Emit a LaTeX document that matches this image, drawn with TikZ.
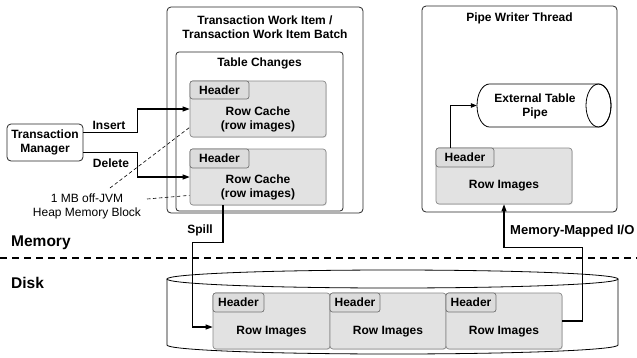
\documentclass[tikz,border=0pt]{standalone}
\usepackage{fontspec}
\setmainfont{Liberation Sans}
\usetikzlibrary{arrows.meta,calc,shadows}
\definecolor{boxgray}{HTML}{E2E2E2}
\definecolor{hdrgray}{HTML}{DCDCDC}
\definecolor{edgegray}{HTML}{8A8A8A}
\begin{document}
\begin{tikzpicture}[x=1pt,y=-1pt,
  every node/.style={font=\bfseries\fontsize{12}{14}\selectfont, inner sep=0pt, align=center},
  frame/.style={draw=black!85, line width=0.8pt, rounded corners=4pt, fill=white},
  graybox/.style={draw=edgegray, line width=0.7pt, rounded corners=3pt, fill=boxgray,
    drop shadow={shadow xshift=0.8pt, shadow yshift=-0.8pt, opacity=0.25}},
  hdrbox/.style={draw=edgegray!120, line width=0.7pt, rounded corners=2.5pt, fill=hdrgray},
  arr/.style={line width=1.1pt, -{Triangle[length=7pt,width=5pt]}},
  conn/.style={line width=1.1pt},
  thin dash/.style={dashed, dash pattern=on 3.5pt off 2.5pt, line width=0.6pt},
  big label/.style={font=\bfseries\fontsize{15.5}{18}\selectfont, anchor=west},
]
\useasboundingbox (0,0) rectangle (637,357);

% ---------- Transaction work item ----------
\node[frame, minimum width=196pt, minimum height=206pt] (twi) at (265,110) {};
\node (twititle) at (265,27.5) {Transaction Work Item /\\Transaction Work Item Batch};
\node[frame, rounded corners=3pt, minimum width=167pt, minimum height=159pt] (tc) at (259.5,131.5) {};
\node (tctitle) at (259.5,63.5) {Table Changes};

\node[graybox, minimum width=136pt, minimum height=56pt] (rc1) at (258,109) {};
\node[hdrbox, minimum width=59pt, minimum height=18pt] (h1) at (219.5,90) {Header};
\node (rc1t) at (258,119) {Row Cache\\(row images)};

\node[graybox, minimum width=136pt, minimum height=56pt] (rc2) at (258,177) {};
\node[hdrbox, minimum width=59pt, minimum height=19pt] (h2) at (219.5,158.5) {Header};
\node (rc2t) at (258,187) {Row Cache\\(row images)};

% ---------- Transaction manager ----------
\node[frame, minimum width=76pt, minimum height=37pt] (tm) at (45,142.5) {Transaction\\Manager};
\node (ins) at (109,125) {Insert};
\node (del) at (111,163) {Delete};
\node[font=\mdseries\fontsize{12}{14}\selectfont] (mem) at (87,206) {1 MB off-JVM\\Heap Memory Block};
\coordinate (d1) at (110,188);
\coordinate (d2) at (147,199);

\draw[arr] ($(tm.north east)!0.24!(tm.south east)$) -- ++(54,0) |- (rc1.west);
\draw[arr] ($(tm.north east)!0.76!(tm.south east)$) -- ++(54,0) |- (rc2.west);
\draw[thin dash] (d1) -- ($(rc1.south west)+(0,-10)$);
\draw[thin dash] (d2) -- ($(rc2.south west)+(0,-10)$);

% ---------- Pipe writer thread ----------
\node[frame, minimum width=195pt, minimum height=206pt] (pw) at (519.5,109) {};
\node (pwtitle) at (519.5,18) {Pipe Writer Thread};
\node[minimum width=134pt, minimum height=43pt] (pipe) at (544,105.5) {};
\draw[line width=0.8pt, fill=white]
  (489.5,84) -- (598.5,84) arc (90:-90:12.5pt and 21.5pt) -- (489.5,127)
  arc (270:90:12.5pt and 21.5pt) -- cycle;
\draw[line width=0.8pt] (598.5,105.5) ellipse (12.5pt and 21.5pt);
\node (pipet) at (535,106) {External Table\\Pipe};

\node[graybox, minimum width=136pt, minimum height=56pt] (ri) at (504,176) {};
\node[hdrbox, minimum width=58pt, minimum height=19pt] (h3) at (465,157.5) {Header};
\node (rit) at (504,186) {Row Images};
\draw[line width=0.8pt, -{Triangle[length=6pt,width=4.5pt]}] ($(ri.north west)+(15,0)$) |- (pipe.west);

% ---------- Memory / Disk ----------
\node[big label] (memlbl) at (11,243) {Memory};
\node[big label] (disklbl) at (11,283) {Disk};
\coordinate (sepL) at (0,258);
\coordinate (sepR) at (637,258);
\draw[line width=1.1pt, dash pattern=on 7pt off 5pt] (sepL) -- (sepR);

\node[minimum width=451pt, minimum height=84pt] (disk) at (392.5,312) {};
\draw[line width=0.8pt, fill=white] (167,279) -- (167,345) arc (180:360:225.5pt and 9pt) -- (618,279);
\draw[line width=0.8pt] (392.5,279) ellipse (225.5pt and 9pt);

\node[graybox, minimum width=117pt, minimum height=56pt] (blk1) at (271.5,321) {};
\node[graybox, minimum width=116pt, minimum height=56pt] (blk2) at (388,321) {};
\node[graybox, minimum width=116pt, minimum height=56pt] (blk3) at (504,321) {};
\node[hdrbox, minimum width=51pt, minimum height=19pt] (bh1) at (238.5,302.5) {Header};
\node[hdrbox, minimum width=50pt, minimum height=19pt] (bh2) at (355,302.5) {Header};
\node[hdrbox, minimum width=50pt, minimum height=19pt] (bh3) at (471,302.5) {Header};
\node (bt1) at (271.5,332) {Row Images};
\node (bt2) at (388,332) {Row Images};
\node (bt3) at (504,332) {Row Images};

% ---------- Spill & memory-mapped I/O ----------
\draw[arr] ($(rc2.south)+(-35,0)$) -- ++(0,37) -| ($(blk1.west)+(-20,0)$) |- ($(blk1.west)+(0,6)$);
\node (spill) at (200,230) {Spill};
\draw[arr] (blk3.east) -- ++(20,0) |- ($(ri.south)+(0,43)$) -- (ri.south);
\node[anchor=west, font=\bfseries\fontsize{13}{15}\selectfont] (mmio) at (510,231) {Memory-Mapped I/O};
\end{tikzpicture}
\end{document}
